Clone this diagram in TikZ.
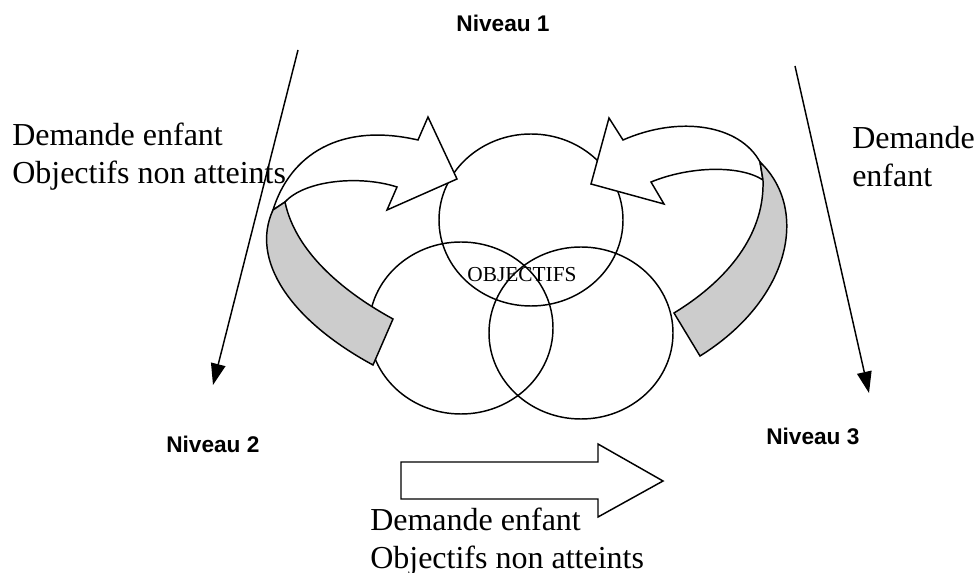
\documentclass[tikz,border=0pt]{standalone}
\usepackage{fontspec}
\setmainfont{Liberation Serif}
\newfontfamily\arialfont{Liberation Sans}
\usetikzlibrary{arrows.meta}
\tikzset{
    bigtext/.style={font=\fontsize{24}{28.5}\selectfont, inner sep=0pt, align=left},
    leveltext/.style={font=\arialfont\bfseries\fontsize{17}{20}\selectfont, inner sep=0pt},
    outline/.style={line width=1.1pt, line join=miter},
    flowline/.style={line width=1.1pt, -{Triangle[length=16pt,width=11pt]}},
}
\begin{document}
\begin{tikzpicture}[x=0.75pt, y=-0.75pt]
    \useasboundingbox (0,0) rectangle (975,573);
    % labels
    \node[leveltext, anchor=base] (n1) at (503, 32) {Niveau 1};
    \node[leveltext, anchor=base west] (n2) at (166, 453) {Niveau 2};
    \node[leveltext, anchor=base west] (n3) at (766, 445) {Niveau 3};
    \node[bigtext, anchor=base west] (lefttxt) at (12, 184) {Demande enfant\\Objectifs non atteints};
    \node[bigtext, anchor=base west] (righttxt) at (852, 187) {Demande\\enfant};
    \node[bigtext, anchor=base west] (bottomtxt) at (370, 568) {Demande enfant\\Objectifs non atteints};
    % straight arrows
    \coordinate (ltop) at (298, 50);
    \coordinate (lend) at (213, 385);
    \coordinate (rtop) at (795, 66);
    \coordinate (rend) at (869, 393);
    \draw[flowline] (ltop) -- (lend);
    \draw[flowline] (rtop) -- (rend);
    % circles
    \draw[outline] (531, 220) ellipse [x radius=92, y radius=86];
    \draw[outline] (461, 328) ellipse [x radius=92, y radius=86];
    \draw[outline] (581, 333) ellipse [x radius=92, y radius=86];
    \node[font=\fontsize{16}{19}\selectfont, inner sep=0pt, anchor=base] (obj) at (522, 282) {OBJECTIFS};
    % left curved arrow
    \draw[outline, fill=white] (273, 210) .. controls (290, 155) and (340, 122) .. (418, 140)
        -- (428, 117) -- (457, 179) -- (387, 210) -- (397, 187)
        .. controls (360, 175) and (305, 180) .. (285, 202) -- cycle;
    \draw[outline, fill=gray!40] (273, 210) .. controls (250, 260) and (290, 320) .. (373, 365)
        -- (393, 319) .. controls (340, 290) and (295, 250) .. (285, 202) -- cycle;
    % right curved arrow
    \draw[outline, fill=white] (760, 162) .. controls (740, 125) and (680, 115) .. (623, 140)
        -- (609, 118) -- (591, 184) -- (664, 204) -- (651, 182)
        .. controls (690, 166) and (740, 165) .. (763, 180) -- cycle;
    \draw[outline, fill=gray!40] (760, 162) .. controls (810, 210) and (790, 300) .. (700, 356)
        -- (674, 313) .. controls (720, 285) and (765, 240) .. (763, 180) -- cycle;
    % bottom block arrow
    \draw[outline, fill=white] (401, 462) -- (598, 462) -- (598, 444) -- (663, 481)
        -- (598, 517) -- (598, 499) -- (401, 499) -- cycle;
\end{tikzpicture}
\end{document}
